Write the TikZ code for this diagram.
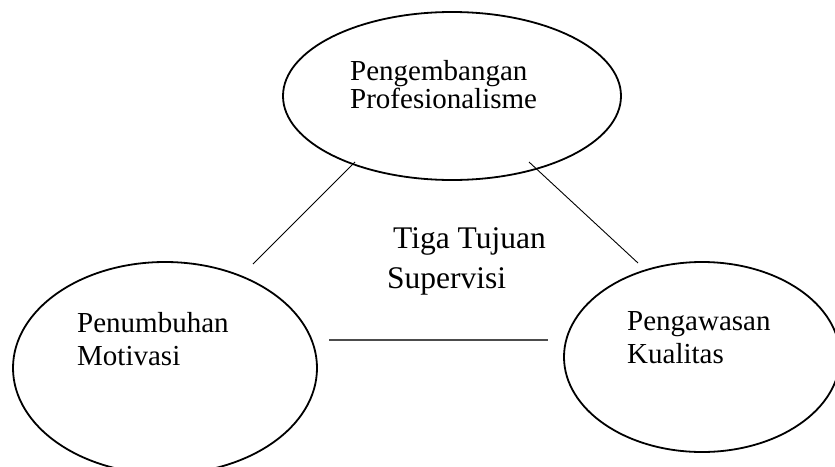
\documentclass[tikz,border=0pt]{standalone}
\usepackage{fontspec}
\setmainfont{Liberation Serif}
\usetikzlibrary{shapes.geometric}
\begin{document}
\begin{tikzpicture}[x=1pt,y=-1pt,
  oval/.style={ellipse, draw, line width=1.8pt, inner sep=0pt},
  lbl/.style={anchor=base west, inner sep=0pt, font=\fontsize{29}{33}\selectfont},
  ctr/.style={anchor=base west, inner sep=0pt, font=\fontsize{31.5}{40}\selectfont},
  link/.style={line width=0.9pt},
  hlink/.style={line width=1.2pt, draw=black!70}]
\useasboundingbox (0,0) rectangle (835,466);
\node[oval, minimum width=338pt, minimum height=168pt] (top) at (452,96) {};
\node[oval, minimum width=304pt, minimum height=212pt] (left) at (165,368) {};
\node[oval, minimum width=276pt, minimum height=190pt] (right) at (702,357) {};
\node[lbl] (t1) at (350,80) {Pengembangan};
\node[lbl] (t2) at (350,108) {Profesionalisme};
\node[lbl] (l1) at (77,332) {Penumbuhan};
\node[lbl] (l2) at (77,365) {Motivasi};
\node[lbl] (r1) at (627,330) {Pengawasan};
\node[lbl] (r2) at (627,363) {Kualitas};
\node[ctr] (c1) at (393,248) {Tiga Tujuan};
\node[ctr] (c2) at (387,288) {Supervisi};
\coordinate (a1) at (355,162);
\coordinate (a2) at (253,264);
\coordinate (b1) at (529,162);
\coordinate (b2) at (638,263);
\coordinate (h1) at (329,340);
\coordinate (h2) at (548,340);
\draw[link] (a1) -- (a2);
\draw[link] (b1) -- (b2);
\draw[hlink] (h1) -- (h2);
\end{tikzpicture}
\end{document}
